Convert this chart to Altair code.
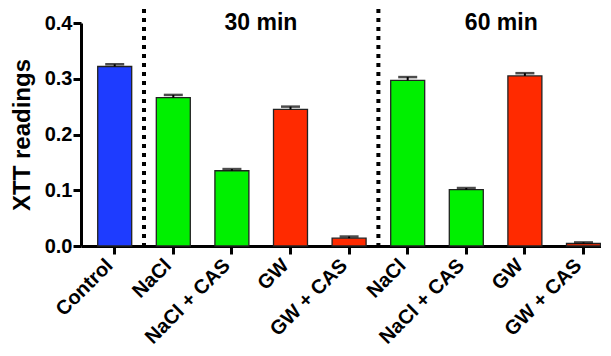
import altair as alt
import pandas as pd

keys = ["Control", "NaCl|30", "NaCl + CAS|30", "GW|30", "GW + CAS|30",
        "NaCl|60", "NaCl + CAS|60", "GW|60", "GW + CAS|60"]
values = [0.322, 0.266, 0.135, 0.245, 0.014, 0.297, 0.101, 0.305, 0.0045]
errors = [0.004, 0.005, 0.003, 0.005, 0.003, 0.006, 0.003, 0.005, 0.002]
colors = ["#1E3CFF", "#00F000", "#00F000", "#FF2A00", "#FF2A00",
          "#00F000", "#00F000", "#FF2A00", "#FF2A00"]

sep_keys = ["Control", "GW + CAS|30"]
sep_top = [0.425, 0.425]
ann_keys = ["NaCl + CAS|30", "NaCl + CAS|60"]
ann_text = ["30 min", "60 min"]
ann_y = [0.387, 0.387]

df = pd.DataFrame({"key": keys, "value": values, "err": errors, "color": colors})
df["top"] = df["value"] + df["err"]
sep = pd.DataFrame({"key": sep_keys, "top": sep_top, "bottom": [0.0, 0.0]})
ann = pd.DataFrame({"key": ann_keys, "text": ann_text, "y": ann_y})

FONT = "Liberation Sans"

xscale = alt.Scale(domain=keys, paddingInner=0.42, paddingOuter=0.147, align=0.97)
yscale = alt.Scale(domain=[0, 0.4], nice=False, zero=True)

xaxis = alt.Axis(title=None, labelExpr="split(datum.label, '|')[0]", labelAngle=-45,
                 labelAlign="right", labelBaseline="middle", labelFontSize=20,
                 labelFontWeight="bold", labelFont=FONT, labelColor="black",
                 labelPadding=8, labelOffset=-5, tickSize=8, tickWidth=3,
                 tickColor="black", domainColor="black", domainWidth=3,
                 labelOverlap=False)
yaxis = alt.Axis(title="XTT readings", values=[0, 0.1, 0.2, 0.3, 0.4], format=".1f",
                 labelFontSize=20, labelFontWeight="bold", labelFont=FONT,
                 labelColor="black", labelPadding=1, tickSize=8, tickWidth=3,
                 tickColor="black", domainColor="black", domainWidth=3, grid=False,
                 titleFontSize=24, titleFont=FONT, titleFontWeight="bold",
                 titleColor="black", titlePadding=10)

x = alt.X("key:N", scale=xscale, axis=xaxis, sort=keys)

bars = alt.Chart(df).mark_bar(stroke="#222222", strokeWidth=1.3).encode(
    x=x,
    y=alt.Y("value:Q", scale=yscale, axis=yaxis),
    color=alt.Color("color:N", scale=None),
)
stems = alt.Chart(df).mark_rule(color="black", strokeWidth=2).encode(
    x=alt.X("key:N", sort=keys), y="value:Q", y2="top:Q")
caps = alt.Chart(df).mark_tick(color="black", size=19, thickness=2.5).encode(
    x=alt.X("key:N", sort=keys), y="top:Q")
seps = alt.Chart(sep).mark_rule(color="black", strokeWidth=4, strokeDash=[4, 5],
                                strokeCap="butt", xOffset=12.3).encode(
    x=alt.X("key:N", sort=keys, bandPosition=1), y="top:Q", y2="bottom:Q")
text30 = alt.Chart(ann.iloc[[0]]).mark_text(font=FONT, fontSize=23, fontWeight="bold",
                                 color="black", baseline="alphabetic", align="center",
                                 dx=12).encode(
    x=alt.X("key:N", sort=keys, bandPosition=1), y="y:Q", text="text:N")
text60 = alt.Chart(ann.iloc[[1]]).mark_text(font=FONT, fontSize=23, fontWeight="bold",
                                 color="black", baseline="alphabetic", align="center",
                                 dx=18).encode(
    x=alt.X("key:N", sort=keys, bandPosition=1), y="y:Q", text="text:N")

chart = alt.layer(bars, stems, caps, seps, text30, text60).properties(
    width=520, height=223,
    autosize=alt.AutoSizeParams(type="none"),
    padding={"left": 73, "top": 15, "right": 0, "bottom": 102},
).configure_view(stroke=None)

chart.save("out.html", embed_options={"renderer": "svg", "actions": False})
